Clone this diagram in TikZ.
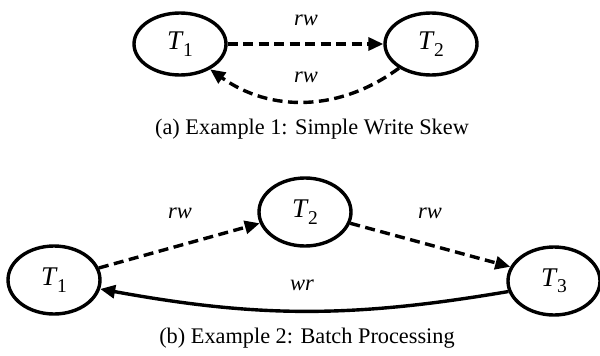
\documentclass[tikz,border=0pt]{standalone}
\usepackage{fontspec}
\setmainfont{Liberation Serif}
\usetikzlibrary{shapes.geometric,arrows.meta}
\newcommand{\tx}[1]{\textit{T}\kern-0.5pt\raisebox{-6.5pt}{\fontsize{19.5pt}{19.5pt}\selectfont #1}}
\begin{document}
\begin{tikzpicture}[x=1pt,y=-1pt,
  tnode/.style={ellipse,draw,line width=3.4pt,minimum width=92pt,minimum height=62pt,inner sep=0pt,font=\fontsize{27pt}{27pt}\selectfont},
  tnodeb/.style={tnode,minimum width=92pt,minimum height=68pt},
  edge/.style={line width=3.4pt,-{Triangle[length=15pt,width=13pt]}},
  dedge/.style={edge,dash pattern=on 10pt off 5.5pt},
  lbl/.style={font=\fontsize{22.5pt}{22.5pt}\selectfont\itshape},
  captxt/.style={font=\fontsize{22.3pt}{22.3pt}\selectfont}]
\useasboundingbox (0,0) rectangle (600,356);
% (a)
\node[tnode] (a1) at (180,44) {\tx{1}};
\node[tnode] (a2) at (431,44) {\tx{2}};
\draw[dedge] (a1.east) -- (a2.west);
\draw[dedge] (a2.-143) to[bend left=36] (a1.-40);
\node[lbl] (la1) at (306,20) {rw};
\node[lbl] (la2) at (306,77) {rw};
\node[captxt] (ca) at (312,129) {(a) Example 1: Simple Write Skew};
% (b)
\node[tnodeb] (b1) at (54,280) {\tx{1}};
\node[tnodeb] (b2) at (305,212) {\tx{2}};
\node[tnodeb] (b3) at (554,281) {\tx{3}};
\draw[dedge] (b1.15) -- (b2.194);
\draw[dedge] (b2.-14) -- (b3.162);
\draw[edge] (b3.193) to[bend left=10] (b1.-11);
\node[lbl] (lb1) at (180,213) {rw};
\node[lbl] (lb2) at (430,213) {rw};
\node[lbl] (lb3) at (302,285) {wr};
\node[captxt] (cb) at (307,338) {(b) Example 2: Batch Processing};
\end{tikzpicture}
\end{document}
